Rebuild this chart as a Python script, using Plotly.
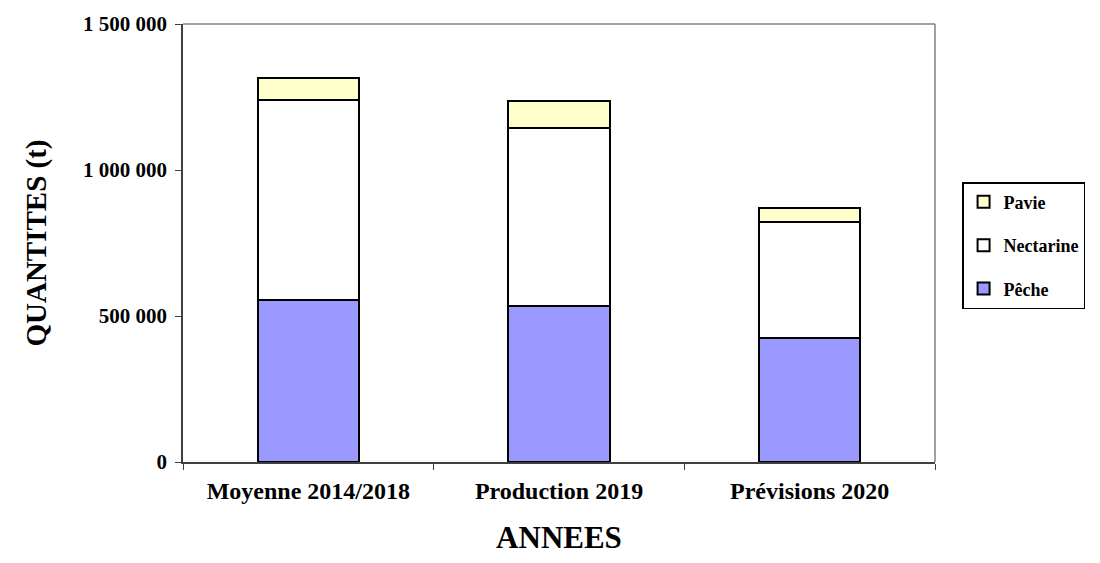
import plotly.graph_objects as go

categories = ["Moyenne 2014/2018", "Production 2019", "Prévisions 2020"]
peche = [555000, 535000, 424000]
nectarine = [684000, 608000, 397000]
pavie = [75000, 92000, 50000]
ytick_vals = [0, 500000, 1000000, 1500000]
ytick_text = ["0", "500 000", "1 000 000", "1 500 000"]

FONT = "Liberation Serif, Times New Roman, serif"

fig = go.Figure()
series = [("Pêche", peche, "#9999FF", 3), ("Nectarine", nectarine, "#FFFFFF", 2), ("Pavie", pavie, "#FFFFCC", 1)]
for name, vals, col, rank in series:
    fig.add_trace(go.Bar(
        name="<b>" + name + "</b>", x=categories, y=vals, legendgroup=name, legendrank=rank,
        marker=dict(color=col, line=dict(color="black", width=2)),
    ))

# page body has an 8px margin; the figure is sized to fit inside the window
fig.update_layout(
    barmode="stack",
    bargap=0.597,
    width=1084, height=547,
    margin=dict(l=175, r=157, t=16, b=93, autoexpand=False),
    plot_bgcolor="white", paper_bgcolor="white",
    font=dict(family=FONT, color="black"),
    legend=dict(
        x=1.036, y=0.639, xanchor="left", yanchor="top",
        traceorder="grouped", tracegroupgap=17, itemwidth=30,
        bordercolor="black", borderwidth=1.5,
        font=dict(family=FONT, size=18, color="black"),
        bgcolor="white",
    ),
    showlegend=True,
)
fig.update_xaxes(
    automargin=True,
    showline=True, linecolor="#404040", linewidth=1.5,
    mirror=False, ticks="outside", tickson="boundaries", ticklen=6,
    tickcolor="#404040", ticklabelstandoff=6,
    tickfont=dict(family=FONT, size=24, color="black"),
    title=dict(text="<b>ANNEES</b>", font=dict(family=FONT, size=31, color="black"), standoff=26),
    tickprefix="<b>", ticksuffix="</b>",
)
fig.update_yaxes(
    automargin=False,
    range=[0, 1500000],
    tickvals=ytick_vals, ticktext=["<b>" + t + "</b>" for t in ytick_text],
    showline=True, linecolor="#404040", linewidth=1.5,
    ticks="outside", ticklen=6, tickcolor="#404040", ticklabelstandoff=4,
    showgrid=False, zeroline=False,
    tickfont=dict(family=FONT, size=21, color="black"),
    title=dict(text="<b>QUANTITES (t)</b>", font=dict(family=FONT, size=29, color="black"), standoff=28),
)
fig.add_shape(type="line", xref="paper", yref="paper", x0=0, x1=1, y0=1, y1=1,
              line=dict(color="#808080", width=1.5))
fig.add_shape(type="line", xref="paper", yref="paper", x0=1, x1=1, y0=0, y1=1,
              line=dict(color="#808080", width=1.5))

fig.write_html("out.html")
